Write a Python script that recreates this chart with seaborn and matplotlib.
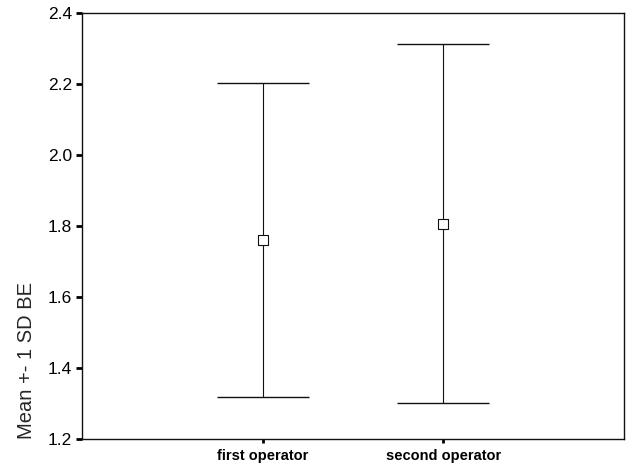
import numpy as np
import pandas as pd
import matplotlib
matplotlib.use('Agg')
import matplotlib.pyplot as plt
import seaborn as sns

# values
operators = ['first operator', 'second operator']
means = [1.761, 1.807]
sds = [0.443, 0.506]
yticks = [1.2, 1.4, 1.6, 1.8, 2.0, 2.2, 2.4]

df = pd.DataFrame({'operator': operators, 'mean': means, 'sd': sds})

sns.set_theme(style='ticks')
plt.rcParams['font.family'] = ['Liberation Sans', 'DejaVu Sans']

fig = plt.figure(figsize=(6.26, 4.66), dpi=100)
ax = fig.add_axes([0.131, 0.058, 0.866, 0.914])

pos = np.arange(len(df))
ax.errorbar(pos, df['mean'], yerr=df['sd'], fmt='none', ecolor='#111111',
            elinewidth=0.8, capsize=33, capthick=1.0)
sns.scatterplot(x=pos, y=df['mean'], marker='s', s=42, facecolor='white',
                edgecolor='#111111', linewidth=0.8, ax=ax, zorder=3)

ax.set_xlim(-1, 2)
ax.set_ylim(1.2, 2.4)
ax.set_yticks(yticks)
ax.set_yticklabels([f'{t:.1f}' for t in yticks], fontsize=12.5)
ax.set_xticks(pos)
ax.set_xticklabels(operators, fontsize=10.5, fontweight='bold')
ax.tick_params(axis='y', length=4, width=2, pad=3, colors='black')
ax.tick_params(axis='x', length=3, width=2, pad=4, colors='black')
for sp in ax.spines.values():
    sp.set_color('#111111')
    sp.set_linewidth(1.0)
ax.set_xlabel('')
ax.set_ylabel('Mean +- 1 SD BE', fontsize=14.5, labelpad=9, loc='bottom')

fig.savefig('out.png', dpi=100)
